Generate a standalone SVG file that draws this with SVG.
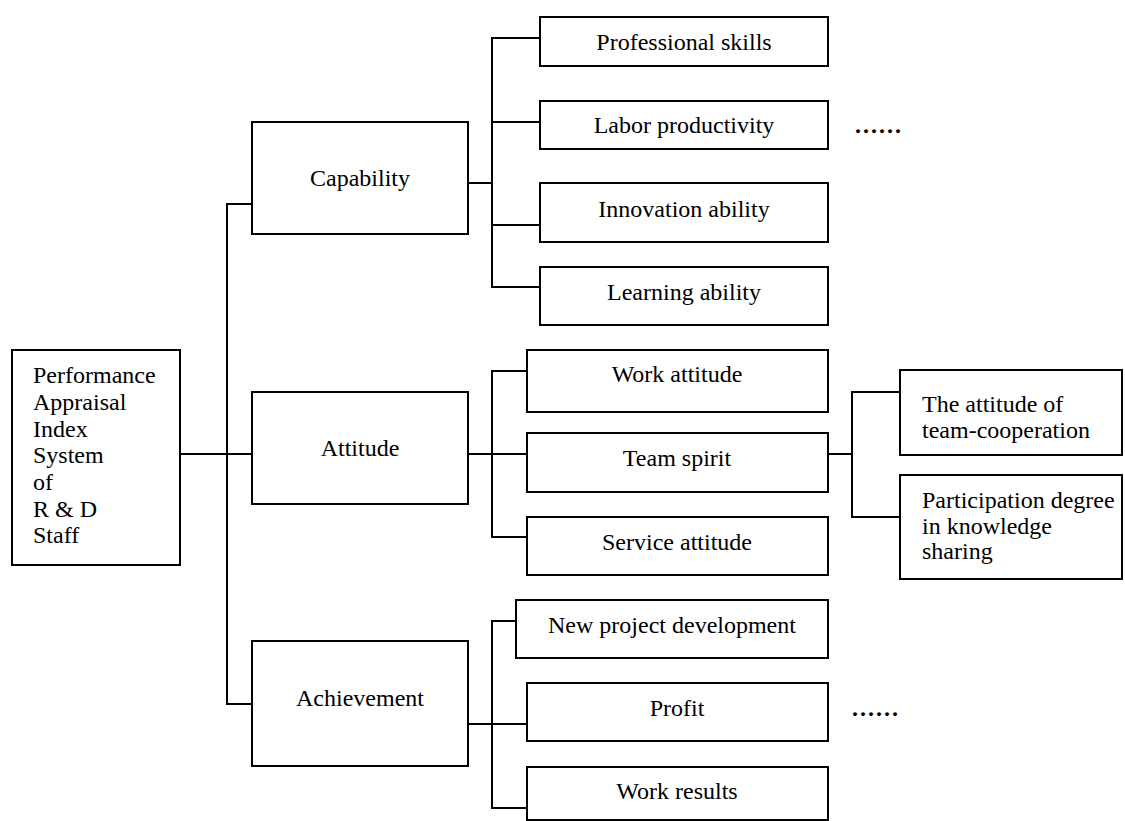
<svg xmlns="http://www.w3.org/2000/svg" width="1125" height="821" viewBox="0 0 1125 821">
<style>
.box{fill:#fff;stroke:#000;stroke-width:2}
.t{font-family:"Liberation Serif","Times New Roman",serif;font-size:24px;fill:#000}
.c{text-anchor:middle}
.dots{font-family:"Liberation Serif","Times New Roman",serif;font-size:24px;font-weight:bold;letter-spacing:2px;fill:#000}
.conn line{stroke:#000;stroke-width:2}
</style>
<rect width="1125" height="821" fill="#fff"/>
<g id="connectors" class="conn">
<line x1="180" y1="454" x2="252" y2="454"/>
<line x1="227" y1="203" x2="227" y2="705"/>
<line x1="226" y1="204" x2="252" y2="204"/>
<line x1="226" y1="704" x2="252" y2="704"/>
<line x1="468" y1="183" x2="492" y2="183"/>
<line x1="492" y1="37" x2="492" y2="288"/>
<line x1="491" y1="38" x2="540" y2="38"/>
<line x1="491" y1="122" x2="540" y2="122"/>
<line x1="491" y1="225" x2="540" y2="225"/>
<line x1="491" y1="287" x2="540" y2="287"/>
<line x1="468" y1="454" x2="527" y2="454"/>
<line x1="492" y1="370" x2="492" y2="538"/>
<line x1="491" y1="371" x2="527" y2="371"/>
<line x1="491" y1="537" x2="527" y2="537"/>
<line x1="828" y1="454" x2="852" y2="454"/>
<line x1="852" y1="391" x2="852" y2="518"/>
<line x1="851" y1="392" x2="900" y2="392"/>
<line x1="851" y1="517" x2="900" y2="517"/>
<line x1="468" y1="724" x2="527" y2="724"/>
<line x1="492" y1="620" x2="492" y2="809"/>
<line x1="491" y1="621" x2="516" y2="621"/>
<line x1="491" y1="808" x2="527" y2="808"/>
</g>
<g id="root">
<rect class="box" x="12" y="350" width="168" height="215"/>
<text class="t" x="33" y="383">Performance</text>
<text class="t" x="33" y="410">Appraisal</text>
<text class="t" x="33" y="437">Index</text>
<text class="t" x="33" y="463">System</text>
<text class="t" x="33" y="490">of</text>
<text class="t" x="33" y="517">R &amp; D</text>
<text class="t" x="33" y="543">Staff</text>
</g>
<g id="capability"><rect class="box" x="252" y="122" width="216" height="112"/><text class="t c" x="360" y="186">Capability</text></g>
<g id="attitude"><rect class="box" x="252" y="392" width="216" height="112"/><text class="t c" x="360" y="456">Attitude</text></g>
<g id="achievement"><rect class="box" x="252" y="641" width="216" height="125"/><text class="t c" x="360" y="706">Achievement</text></g>
<g id="professional-skills"><rect class="box" x="540" y="17" width="288" height="49"/><text class="t c" x="684" y="50">Professional skills</text></g>
<g id="labor-productivity"><rect class="box" x="540" y="101" width="288" height="48"/><text class="t c" x="684" y="133">Labor productivity</text></g>
<g id="innovation-ability"><rect class="box" x="540" y="183" width="288" height="59"/><text class="t c" x="684" y="217">Innovation ability</text></g>
<g id="learning-ability"><rect class="box" x="540" y="267" width="288" height="58"/><text class="t c" x="684" y="300">Learning ability</text></g>
<g id="work-attitude"><rect class="box" x="527" y="350" width="301" height="62"/><text class="t c" x="677" y="382">Work attitude</text></g>
<g id="team-spirit"><rect class="box" x="527" y="433" width="301" height="59"/><text class="t c" x="677" y="466">Team spirit</text></g>
<g id="service-attitude"><rect class="box" x="527" y="517" width="301" height="58"/><text class="t c" x="677" y="550">Service attitude</text></g>
<g id="team-cooperation"><rect class="box" x="900" y="370" width="222" height="85"/><text class="t" x="922" y="412">The attitude of</text><text class="t" x="922" y="438">team-cooperation</text></g>
<g id="knowledge-sharing"><rect class="box" x="900" y="475" width="222" height="104"/><text class="t" x="922" y="508">Participation degree</text><text class="t" x="922" y="534">in knowledge</text><text class="t" x="922" y="559">sharing</text></g>
<g id="new-project"><rect class="box" x="516" y="600" width="312" height="58"/><text class="t c" x="672" y="633">New project development</text></g>
<g id="profit"><rect class="box" x="527" y="683" width="301" height="58"/><text class="t c" x="677" y="716">Profit</text></g>
<g id="work-results"><rect class="box" x="527" y="767" width="301" height="53"/><text class="t c" x="677" y="799">Work results</text></g>
<g id="more-capability"><text class="dots" x="855" y="133">......</text></g>
<g id="more-achievement"><text class="dots" x="852" y="716">......</text></g>
</svg>
